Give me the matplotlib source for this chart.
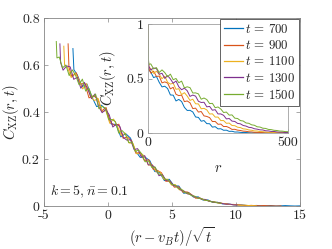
import numpy as np
import matplotlib
matplotlib.use("Agg")
import matplotlib.pyplot as plt

plt.rcParams['mathtext.fontset'] = 'cm'
plt.rcParams['font.family'] = ['cmr10', 'DejaVu Serif']
plt.rcParams['axes.unicode_minus'] = False
plt.rcParams['axes.formatter.use_mathtext'] = True

# ---------------- data ----------------
times = [700, 900, 1100, 1300, 1500]
labels = [r"$t\,=\,700$", r"$t\,=\,900$", r"$t\,=\,1100$", r"$t\,=\,1300$", r"$t\,=\,1500$"]
colors = ['#0072BD', '#D95319', '#EDB120', '#7E2F8E', '#77AC30']
vB = 0.105

r = [0, 1, 3] + list(range(10, 501, 10))

c_700 = [1.0, 0.67, 0.58,
         0.558, 0.508, 0.519, 0.465, 0.423, 0.429, 0.408, 0.349, 0.347, 0.294,
         0.308, 0.289, 0.235, 0.207, 0.208, 0.193, 0.147, 0.143, 0.108, 0.114,
         0.086, 0.085, 0.054, 0.058, 0.038, 0.039, 0.025, 0.026, 0.015, 0.016,
         0.009, 0.009, 0.006, 0.004, 0.0045, 0.0025, 0.001, 0.0025, 0.001, 0.001,
         0.002, 0.000, 0.0008, 0.0018, 0.0007, 0.000, 0.0006, 0.0016, 0.0005, 0.0005]
c_900 = [1.0, 0.69, 0.59,
         0.549, 0.567, 0.519, 0.522, 0.460, 0.469, 0.458, 0.405, 0.419, 0.355,
         0.343, 0.348, 0.288, 0.294, 0.277, 0.224, 0.228, 0.192, 0.197, 0.157,
         0.152, 0.141, 0.105, 0.106, 0.080, 0.082, 0.059, 0.060, 0.049, 0.033,
         0.034, 0.026, 0.023, 0.017, 0.0155, 0.011, 0.010, 0.0063, 0.0056, 0.0054,
         0.0034, 0.0014, 0.0028, 0.0015, 0.0011, 0.002, 0.0008, 0.0007, 0.0000, 0.0005]
c_1100 = [1.0, 0.68, 0.60,
          0.592, 0.547, 0.566, 0.539, 0.498, 0.521, 0.465, 0.449, 0.457, 0.401,
          0.406, 0.352, 0.370, 0.339, 0.299, 0.310, 0.268, 0.267, 0.222, 0.226,
          0.212, 0.174, 0.176, 0.146, 0.146, 0.114, 0.114, 0.089, 0.091, 0.069,
          0.067, 0.053, 0.0495, 0.038, 0.0355, 0.028, 0.025, 0.019, 0.018, 0.013,
          0.012, 0.009, 0.0064, 0.007, 0.0046, 0.0027, 0.0038, 0.002, 0.0017, 0.0004]
c_1300 = [1.0, 0.69, 0.61,
          0.578, 0.596, 0.592, 0.539, 0.548, 0.501, 0.526, 0.496, 0.457, 0.477,
          0.424, 0.397, 0.411, 0.388, 0.336, 0.348, 0.338, 0.291, 0.280, 0.282,
          0.240, 0.244, 0.209, 0.214, 0.175, 0.175, 0.162, 0.129, 0.133, 0.109,
          0.106, 0.088, 0.084, 0.069, 0.0635, 0.052, 0.049, 0.039, 0.035, 0.029,
          0.028, 0.0205, 0.019, 0.0145, 0.014, 0.010, 0.0076, 0.0082, 0.0048, 0.0046]
c_1500 = [1.0, 0.70, 0.63,
          0.634, 0.588, 0.600, 0.555, 0.579, 0.554, 0.516, 0.540, 0.489, 0.500,
          0.461, 0.476, 0.414, 0.424, 0.416, 0.367, 0.368, 0.359, 0.310, 0.321,
          0.307, 0.270, 0.272, 0.232, 0.239, 0.220, 0.188, 0.192, 0.164, 0.166,
          0.136, 0.133, 0.114, 0.110, 0.092, 0.089, 0.075, 0.071, 0.057, 0.0545,
          0.044, 0.042, 0.033, 0.031, 0.025, 0.023, 0.018, 0.017, 0.013, 0.012]
curves = [c_700, c_900, c_1100, c_1300, c_1500]

main_xticks = [-5, 0, 5, 10, 15]
main_yticks = [0, 0.2, 0.4, 0.6, 0.8]
inset_xticks = [0, 500]
inset_yticks = [0, 0.5, 1]

# ---------------- figure ----------------
W, H = 332, 249
fig = plt.figure(figsize=(W / 100, H / 100), dpi=100)

def fb(x0, y0, x1, y1):
    return [x0 / W, 1 - y1 / H, (x1 - x0) / W, (y1 - y0) / H]

axc = '#858585'
txtc = '#262626'
lw = 0.7

ax = fig.add_axes(fb(44, 18, 300, 206))
ra = np.array(r, dtype=float)
for t, c, col in zip(times, curves, colors):
    x = (ra - vB * t) / np.sqrt(t)
    ax.plot(x[1:], np.array(c)[1:], color=col, lw=lw)
ax.set_xlim(-5, 15)
ax.set_ylim(0, 0.8)
ax.set_xticks(main_xticks)
ax.set_xticklabels([str(v) for v in main_xticks])
ax.set_yticks(main_yticks)
ax.set_yticklabels(['0', '0.2', '0.4', '0.6', '0.8'])
ax.tick_params(direction='in', length=3, width=0.5, colors=axc, labelcolor=txtc,
               labelsize=10, top=True, right=True, pad=3)
for s in ax.spines.values():
    s.set_color(axc)
    s.set_linewidth(0.6)
ax.set_xlabel(r'$(r-v_Bt)/\sqrt{t}$', fontsize=10.5, color=txtc, labelpad=2)
ax.set_ylabel(r'$C_{\rm XZ}(r,t)$', fontsize=10.5, color=txtc, labelpad=1)
ax.text(-4.55, 0.045, r'$k=5,\bar{n}=0.1$', fontsize=10, color=txtc)

# inset
ai = fig.add_axes(fb(148, 24, 288, 133))
lines = []
for t, c, col, lab in zip(times, curves, colors, labels):
    ln, = ai.plot(r, c, color=col, lw=lw, label=lab)
    lines.append(ln)
ai.set_xlim(0, 500)
ai.set_ylim(0, 1)
ai.set_xticks(inset_xticks)
ai.set_xticklabels(['0', '500'])
ai.set_yticks(inset_yticks)
ai.set_yticklabels(['0', '0.5', '1'])
ai.tick_params(direction='in', length=3, width=0.5, colors=axc, labelcolor=txtc,
               labelsize=10, top=True, right=True, pad=3)
for s in ai.spines.values():
    s.set_color('#a0a0a0')
    s.set_linewidth(0.6)
ai.set_xlabel(r'$r$', fontsize=10.5, color=txtc, labelpad=9)
ai.set_ylabel(r'$C_{\rm XZ}(r,t)$', fontsize=10.5, color=txtc, labelpad=6)

leg = ai.legend(handles=lines, loc='upper right',
                bbox_to_anchor=(299 / W, 1 - 19 / H), bbox_transform=fig.transFigure,
                borderaxespad=0, fontsize=9.3, handlelength=1.5, handletextpad=0.15,
                labelspacing=0.25, borderpad=0.3, fancybox=False, framealpha=1)
leg.get_frame().set_edgecolor(txtc)
leg.get_frame().set_linewidth(0.5)
for h, col in zip(leg.legend_handles, colors):
    h.set_color(col)
    h.set_linewidth(0.9)
for tx in leg.get_texts():
    tx.set_color(txtc)

fig.savefig('out.png', dpi=100)
